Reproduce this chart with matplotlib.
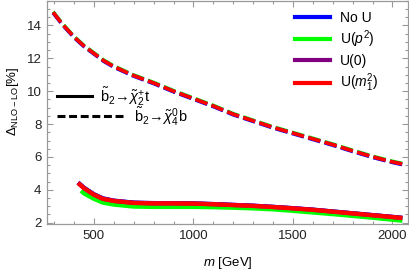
import matplotlib
matplotlib.use("Agg")
import matplotlib.pyplot as plt
from matplotlib.lines import Line2D
from matplotlib.ticker import MultipleLocator

plt.rcParams['font.family'] = ['Liberation Sans', 'DejaVu Sans']
plt.rcParams['mathtext.fontset'] = 'custom'
plt.rcParams['mathtext.rm'] = 'Liberation Sans'
plt.rcParams['mathtext.it'] = 'Liberation Sans:italic'
plt.rcParams['mathtext.bf'] = 'Liberation Sans:bold'

# ---- data: b2 -> chi4^0 b (dashed) ----
m_dash = [295, 340, 400, 450, 500, 550, 600, 700, 800, 900, 1000, 1100, 1200,
          1300, 1400, 1500, 1600, 1700, 1800, 1900, 2000, 2050]
dash_noU = [14.76, 14.06, 13.26, 12.71, 12.26, 11.81, 11.46, 10.91, 10.46, 9.96, 9.51,
            9.06, 8.56, 8.16, 7.76, 7.41, 7.06, 6.71, 6.33, 5.97, 5.66, 5.53]
dash_p2 = [14.84, 14.14, 13.34, 12.79, 12.34, 11.89, 11.54, 10.99, 10.54, 10.04, 9.59,
           9.14, 8.64, 8.24, 7.84, 7.49, 7.14, 6.79, 6.41, 6.05, 5.74, 5.61]
dash_0 = [14.80, 14.10, 13.30, 12.75, 12.30, 11.85, 11.50, 10.95, 10.50, 10.00, 9.55,
          9.10, 8.60, 8.20, 7.80, 7.45, 7.10, 6.75, 6.37, 6.01, 5.70, 5.57]
dash_m1 = [14.80, 14.10, 13.30, 12.75, 12.30, 11.85, 11.50, 10.95, 10.50, 10.00, 9.55,
           9.10, 8.60, 8.20, 7.80, 7.45, 7.10, 6.75, 6.37, 6.01, 5.70, 5.57]

# ---- data: b2 -> chi2^+ t (solid) ----
m_solid = [420, 450, 500, 545, 600, 700, 800, 900, 1000, 1100, 1200, 1300, 1400,
           1500, 1600, 1700, 1800, 1900, 2000, 2050]
solid_noU = [4.45, 4.13, 3.73, 3.48, 3.34, 3.22, 3.19, 3.18, 3.17, 3.13, 3.08, 3.03,
             2.96, 2.88, 2.79, 2.68, 2.57, 2.46, 2.35, 2.29]
solid_0 = [4.42, 4.10, 3.71, 3.46, 3.33, 3.21, 3.18, 3.18, 3.17, 3.13, 3.08, 3.03,
           2.96, 2.88, 2.79, 2.68, 2.57, 2.46, 2.35, 2.29]
solid_m1 = [4.42, 4.10, 3.70, 3.45, 3.32, 3.20, 3.17, 3.17, 3.16, 3.12, 3.07, 3.02,
            2.95, 2.87, 2.78, 2.67, 2.56, 2.45, 2.34, 2.28]
m_solid_p2 = [435, 450, 500, 545, 600, 700, 800, 900, 1000, 1100, 1200, 1300, 1400,
              1500, 1600, 1700, 1800, 1900, 2000, 2050]
solid_p2 = [3.94, 3.78, 3.45, 3.22, 3.10, 2.98, 2.96, 2.96, 2.96, 2.94, 2.91, 2.87,
            2.81, 2.72, 2.62, 2.52, 2.41, 2.30, 2.18, 2.12]

labels = ["No U", "U($p^2$)", "U(0)", "U($m_1^2$)"]
colors = ["#0000ff", "#00ff00", "#800080", "#ff0000"]

fig = plt.figure(figsize=(4.1, 2.73), dpi=100)
ax = fig.add_axes([0.1146, 0.1795, 0.8804, 0.8175])

lw = 2.5
dash_style = (0, (3.6, 1.3))
dash_sets = [dash_noU, dash_p2, dash_0, dash_m1]
solid_sets = [(m_solid, solid_noU), (m_solid_p2, solid_p2), (m_solid, solid_0), (m_solid, solid_m1)]
for c, d, (ms, s) in zip(colors, dash_sets, solid_sets):
    ax.plot(m_dash, d, color=c, lw=lw, linestyle=dash_style, solid_capstyle='butt')
    ax.plot(ms, s, color=c, lw=lw + 0.6, solid_capstyle='butt')

ax.set_xlim(264, 2078)
ax.set_ylim(1.92, 15.5)
ax.xaxis.set_major_locator(MultipleLocator(500))
ax.xaxis.set_minor_locator(MultipleLocator(100))
ax.yaxis.set_major_locator(MultipleLocator(2))
ax.yaxis.set_minor_locator(MultipleLocator(0.5))
gray = "#999999"
for sp in ax.spines.values():
    sp.set_color(gray)
    sp.set_linewidth(0.9)
ax.tick_params(which='both', direction='in', top=True, right=True, color=gray,
               labelsize=9.5, labelcolor='#222222', width=0.8)
ax.tick_params(which='major', length=4.5, pad=4)
ax.tick_params(which='minor', length=2.5)

ax.set_xlabel("$m$ [GeV]", fontsize=9.5, labelpad=10)
ax.set_ylabel(r"$\Delta_{\mathrm{NLO-LO}}[\%]$", fontsize=9.5)
ax.yaxis.set_label_coords(-0.072, 0.55)

# legend of variants
h1 = [Line2D([], [], color=c, lw=3) for c in colors]
leg1 = ax.legend(h1, labels, loc='upper right', bbox_to_anchor=(0.945, 1.0),
                 frameon=False, fontsize=10, handlelength=2.5, handletextpad=0.7,
                 labelspacing=0.28, borderaxespad=0.3)
ax.add_artist(leg1)

# legend of channels
leg2 = ax.legend([Line2D([], [], color='black', lw=2.2)],
                 [r"$\tilde{\mathrm{b}}_2\!\rightarrow\!\tilde{\chi}_2^{+}\mathrm{t}$"],
                 loc='center left', bbox_to_anchor=(0.0, 0.573), frameon=False,
                 fontsize=10.5, handlelength=2.4, handletextpad=0.55, borderaxespad=0.3)
ax.add_artist(leg2)
leg3 = ax.legend([Line2D([], [], color='black', lw=2.2, linestyle=(0, (2.6, 1.2)))],
                 [r"$\tilde{\mathrm{b}}_2\!\rightarrow\!\tilde{\chi}_4^{0}\mathrm{b}$"],
                 loc='center left', bbox_to_anchor=(0.0, 0.483), frameon=False,
                 fontsize=10.5, handlelength=4.55, handletextpad=0.75, borderaxespad=0.3)

fig.savefig("out.png", dpi=100)
